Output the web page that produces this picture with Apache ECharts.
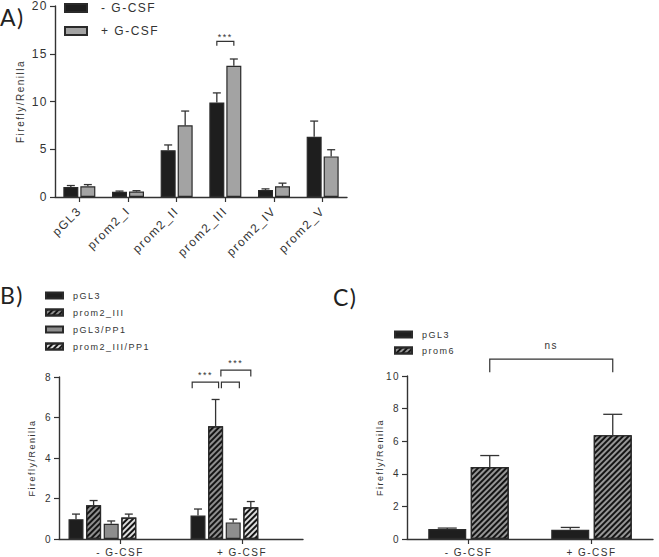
<!DOCTYPE html>
<html>
<head>
<meta charset="utf-8">
<script src="https://cdn.jsdelivr.net/npm/echarts@6/dist/echarts.min.js"></script>
<style>
    html, body { margin: 0; padding: 0; background: #fff; }
    #chart { width: 659px; height: 557px; }
    /* GraphPad-style tracking on all labels */
    #chart svg text { letter-spacing: 1.5px; }
</style>
</head>
<body>
<div id="chart"></div>
<script>
// ---- panel A: promoter fragments ----
const promoters = ['pGL3', 'prom2_I', 'prom2_II', 'prom2_III', 'prom2_IV', 'prom2_V'];
const minusGcsf = [1.05, 0.55, 4.9, 9.9, 0.72, 6.3];
const minusGcsfSem = [0.15, 0.07, 0.55, 1.0, 0.13, 1.65];
const plusGcsf = [1.12, 0.57, 7.5, 13.75, 1.13, 4.25];
const plusGcsfSem = [0.18, 0.09, 1.5, 0.7, 0.32, 0.7];

// ---- panel B: PP1 ----
const treatments = ['- G-CSF', '+ G-CSF'];
const pgl3B = [0.98, 1.16];
const pgl3BSem = [0.25, 0.32];
const prom2III = [1.67, 5.57];
const prom2IIISem = [0.23, 1.32];
const pgl3PP1 = [0.75, 0.82];
const pgl3PP1Sem = [0.14, 0.16];
const prom2IIIPP1 = [1.06, 1.57];
const prom2IIIPP1Sem = [0.17, 0.28];

// ---- panel C: prom6 ----
const pgl3C = [0.61, 0.57];
const pgl3CSem = [0.06, 0.14];
const prom6 = [4.41, 6.37];
const prom6Sem = [0.71, 1.28];

// brackets: [catA, slotA, catB, slotB, yTop, yLeg]
const bracketsA = [[3, 0, 3, 1, 16.3, 15.85]];
const bracketLabelsA = ['***'];
const bracketsB = [[1, -0.33, 1, 1.17, 7.75, 7.45], [1, 1.33, 1, 2.35, 7.75, 7.45], [1, 1.3, 1, 3.0, 8.34, 8.03]];
const bracketLabelsB = ['***', '', '***'];
const bracketsC = [[0, 1, 1, 1, 11.04, 10.23]];
const bracketLabelsC = ['ns'];

const FONT = 'Liberation Sans';
const INK = '#333';

// bar layout per panel (px); n = number of bar slots per category
const layA = { w: 15, gap: 2, cap: 8, n: 2, txt: 4 };
const layB = { w: 15, gap: 2.6, cap: 8, n: 6, txt: 7 };
const layC = { w: 38, gap: 4.5, cap: 19, n: 2, txt: 14 };

const slotOffset = (i, lay) => (i - (lay.n - 1) / 2) * (lay.w + lay.gap);

const stripes = {
    symbol: 'rect',
    symbolSize: 1,
    color: '#141414',
    dashArrayX: [1, 0],
    dashArrayY: [2, 2],
    rotation: -Math.PI / 4
};

function bars(name, grid, values, lay, fill, decal) {
    return {
        type: 'bar',
        name: name,
        xAxisIndex: grid,
        yAxisIndex: grid,
        data: values,
        barWidth: lay.w,
        barGap: (lay.gap / lay.w * 100) + '%',
        itemStyle: { color: fill, borderColor: '#2a2a2a', borderWidth: 1.2, decal: decal },
        silent: true,
        z: 2
    };
}

function errorBars(grid, means, sems, slot, lay) {
    return {
        type: 'custom',
        xAxisIndex: grid,
        yAxisIndex: grid,
        silent: true,
        z: 3,
        data: means.map((m, i) => [i, m, m + sems[i]]),
        renderItem: (params, api) => {
            const base = api.coord([api.value(0), api.value(1)]);
            const top = api.coord([api.value(0), api.value(2)]);
            const x = base[0] + slotOffset(slot, lay);
            const h = lay.cap / 2;
            const st = { stroke: INK, lineWidth: 1.3 };
            return {
                type: 'group',
                children: [
                    { type: 'line', shape: { x1: x, y1: base[1], x2: x, y2: top[1] }, style: st },
                    { type: 'line', shape: { x1: x - h, y1: top[1], x2: x + h, y2: top[1] }, style: st }
                ]
            };
        }
    };
}

function brackets(grid, items, labels, lay, fs) {
    return {
        type: 'custom',
        xAxisIndex: grid,
        yAxisIndex: grid,
        silent: true,
        clip: false,
        z: 4,
        data: items,
        renderItem: (params, api) => {
            const yTop = api.coord([api.value(0), api.value(4)])[1];
            const yLeg = api.coord([api.value(0), api.value(5)])[1];
            const xa = api.coord([api.value(0), 0])[0] + slotOffset(api.value(1), lay);
            const xb = api.coord([api.value(2), 0])[0] + slotOffset(api.value(3), lay);
            return {
                type: 'group',
                children: [
                    {
                        type: 'polyline',
                        shape: { points: [[xa, yLeg], [xa, yTop], [xb, yTop], [xb, yLeg]] },
                        style: { stroke: INK, lineWidth: 1.2, fill: null }
                    },
                    {
                        type: 'text',
                        x: (xa + xb) / 2,
                        y: yTop - lay.txt,
                        style: {
                            text: labels[params.dataIndex],
                            fill: INK,
                            font: fs + 'px "' + FONT + '"',
                            align: 'center',
                            verticalAlign: 'middle'
                        }
                    }
                ]
            };
        }
    };
}

function yAxis(grid, max, interval, fs, nameFs, nameGap) {
    return {
        type: 'value',
        gridIndex: grid,
        min: 0,
        max: max,
        interval: interval,
        name: 'Firefly/Renilla',
        nameLocation: 'middle',
        nameGap: nameGap,
        nameTextStyle: { fontFamily: FONT, fontSize: nameFs, color: INK },
        axisLine: { show: true, lineStyle: { color: INK, width: 1.4 } },
        axisTick: { show: true, length: 5, lineStyle: { color: INK, width: 1.2 } },
        axisLabel: { fontFamily: FONT, fontSize: fs, color: INK, margin: 7 },
        splitLine: { show: false }
    };
}

function xAxis(grid, cats, fs, rotate, margin) {
    return {
        type: 'category',
        gridIndex: grid,
        data: cats,
        axisLine: { show: true, lineStyle: { color: INK, width: 1.4 } },
        axisTick: { show: true, alignWithLabel: true, length: 5, lineStyle: { color: INK, width: 1.2 } },
        axisLabel: { fontFamily: FONT, fontSize: fs, color: INK, rotate: rotate, margin: margin, interval: 0 },
        splitLine: { show: false }
    };
}

const legendBase = {
    orient: 'vertical',
    icon: 'rect',
    selectedMode: false,
    padding: 0,
    textStyle: { fontFamily: FONT, color: INK }
};

const panelTitle = (text, left, top) => ({
    text: text,
    left: left,
    top: top,
    padding: 0,
    textStyle: { fontFamily: 'Lato', fontSize: 23, fontWeight: 'normal', color: '#222' }
});

const chart = echarts.init(document.getElementById('chart'), null, { renderer: 'svg' });

const option = {
    animation: false,
    backgroundColor: '#fff',
    title: [panelTitle('A)', 0, 5), panelTitle('B)', 0, 283), panelTitle('C)', 333, 285)],
    grid: [
        { left: 55, top: 3, width: 292, height: 194 },
        { left: 59, top: 377, width: 244, height: 162 },
        { left: 407, top: 376, width: 246, height: 163 }
    ],
    xAxis: [
        xAxis(0, promoters, 12, 45, 12),
        xAxis(1, treatments, 10, 0, 8),
        xAxis(2, treatments, 10, 0, 8)
    ],
    yAxis: [
        yAxis(0, 20, 5, 12, 10, 30),
        yAxis(1, 8, 2, 10, 9, 23),
        yAxis(2, 10, 2, 10, 9, 17)
    ],
    legend: [
        Object.assign({}, legendBase, {
            left: 64, top: 2, itemWidth: 22, itemHeight: 8, itemGap: 11,
            textStyle: { fontFamily: FONT, color: INK, fontSize: 12, padding: [0, 0, 0, 9] },
            data: ['- G-CSF', '+ G-CSF']
        }),
        Object.assign({}, legendBase, {
            left: 45, top: 291, itemWidth: 17, itemHeight: 6, itemGap: 8,
            textStyle: { fontFamily: FONT, color: INK, fontSize: 9, padding: [0, 0, 0, 5] },
            data: ['pGL3', 'prom2_III', 'pGL3/PP1', 'prom2_III/PP1']
        }),
        Object.assign({}, legendBase, {
            left: 394, top: 330, itemWidth: 17, itemHeight: 6, itemGap: 7,
            textStyle: { fontFamily: FONT, color: INK, fontSize: 9, padding: [0, 0, 0, 5] },
            data: ['pGL3', 'prom6']
        })
    ],
    series: [
        bars('- G-CSF', 0, minusGcsf, layA, '#1e1e1e'),
        bars('+ G-CSF', 0, plusGcsf, layA, '#a3a3a3'),
        errorBars(0, minusGcsf, minusGcsfSem, 0, layA),
        errorBars(0, plusGcsf, plusGcsfSem, 1, layA),
        brackets(0, bracketsA, bracketLabelsA, layA, 9),

        bars('pGL3', 1, pgl3B, layB, '#1e1e1e'),
        bars('prom2_III', 1, prom2III, layB, '#8e8e8e', stripes),
        bars('pGL3/PP1', 1, pgl3PP1, layB, '#8e8e8e'),
        bars('prom2_III/PP1', 1, prom2IIIPP1, layB, '#dcdcdc', stripes),
        // two empty slots: GraphPad draws the group left of the tick
        bars('', 1, ['-', '-'], layB, 'transparent'),
        bars('', 1, ['-', '-'], layB, 'transparent'),
        errorBars(1, pgl3B, pgl3BSem, 0, layB),
        errorBars(1, prom2III, prom2IIISem, 1, layB),
        errorBars(1, pgl3PP1, pgl3PP1Sem, 2, layB),
        errorBars(1, prom2IIIPP1, prom2IIIPP1Sem, 3, layB),
        brackets(1, bracketsB, bracketLabelsB, layB, 9),

        bars('pGL3', 2, pgl3C, layC, '#1e1e1e'),
        bars('prom6', 2, prom6, layC, '#969696', stripes),
        errorBars(2, pgl3C, pgl3CSem, 0, layC),
        errorBars(2, prom6, prom6Sem, 1, layC),
        brackets(2, bracketsC, bracketLabelsC, layC, 10)
    ]
};

chart.setOption(option);
</script>
</body>
</html>
